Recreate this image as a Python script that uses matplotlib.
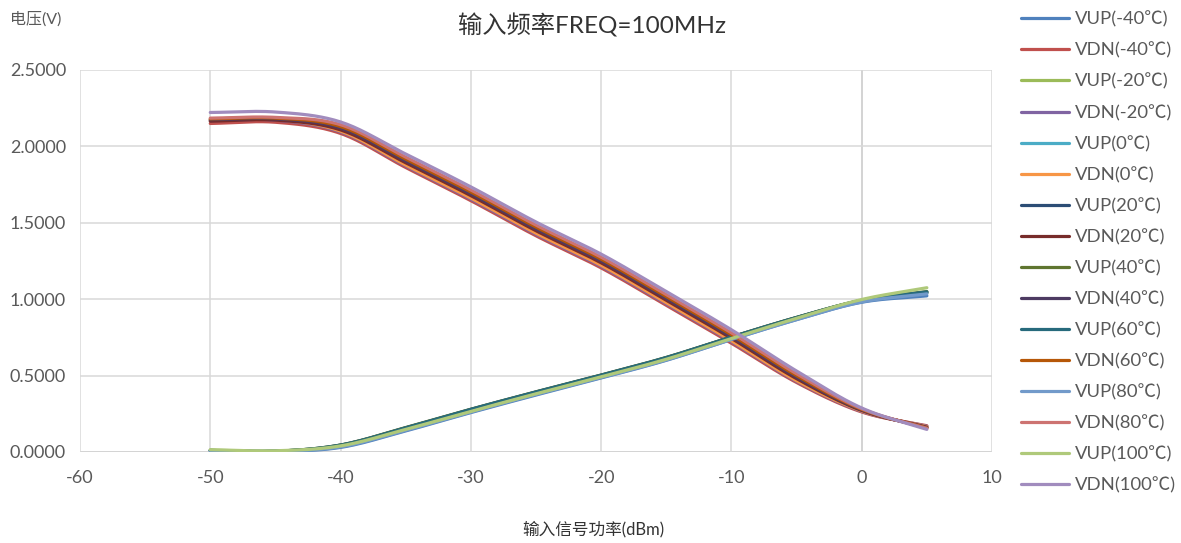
import numpy as np
import matplotlib
matplotlib.use('Agg')
import matplotlib.pyplot as plt

plt.rcParams['font.family'] = ['Lato', 'Noto Sans CJK SC', 'DejaVu Sans']
plt.rcParams['axes.unicode_minus'] = False

# input power (dBm)
pin = [-50, -45, -40, -35, -30, -25, -20, -15, -10, -5, 0, 5]

temps = ['-40', '-20', '0', '20', '40', '60', '80', '100']

# detector outputs (V)
vup_m40 = [0.008, 0.004, 0.030, 0.138, 0.258, 0.373, 0.484, 0.600, 0.736, 0.866, 0.980, 1.022]
vdn_m40 = [2.150, 2.158, 2.085, 1.862, 1.645, 1.415, 1.205, 0.960, 0.712, 0.455, 0.262, 0.172]
vup_m20 = [0.012, 0.006, 0.038, 0.148, 0.268, 0.383, 0.494, 0.609, 0.744, 0.874, 0.988, 1.040]
vdn_m20 = [2.168, 2.172, 2.095, 1.872, 1.655, 1.425, 1.215, 0.970, 0.722, 0.462, 0.266, 0.168]
vup_0 = [0.010, 0.005, 0.040, 0.152, 0.272, 0.387, 0.497, 0.612, 0.747, 0.877, 0.990, 1.042]
vdn_0 = [2.172, 2.176, 2.100, 1.878, 1.662, 1.432, 1.222, 0.977, 0.728, 0.467, 0.269, 0.165]
vup_20 = [0.010, 0.005, 0.045, 0.158, 0.278, 0.392, 0.502, 0.617, 0.752, 0.880, 0.992, 1.045]
vdn_20 = [2.165, 2.172, 2.108, 1.893, 1.678, 1.448, 1.238, 0.993, 0.744, 0.480, 0.272, 0.162]
vup_40 = [0.010, 0.005, 0.046, 0.160, 0.280, 0.394, 0.504, 0.619, 0.753, 0.881, 0.993, 1.050]
vdn_40 = [2.175, 2.180, 2.120, 1.905, 1.690, 1.460, 1.250, 1.005, 0.755, 0.490, 0.275, 0.160]
vup_60 = [0.010, 0.005, 0.045, 0.158, 0.279, 0.393, 0.503, 0.618, 0.752, 0.880, 0.992, 1.048]
vdn_60 = [2.180, 2.185, 2.130, 1.917, 1.702, 1.472, 1.262, 1.017, 0.767, 0.500, 0.279, 0.157]
vup_80 = [0.008, 0.004, 0.034, 0.142, 0.262, 0.377, 0.487, 0.602, 0.737, 0.867, 0.982, 1.035]
vdn_80 = [2.185, 2.190, 2.142, 1.930, 1.715, 1.485, 1.275, 1.030, 0.780, 0.512, 0.283, 0.155]
vup_100 = [0.015, 0.008, 0.040, 0.148, 0.266, 0.381, 0.492, 0.607, 0.743, 0.875, 0.998, 1.075]
vdn_100 = [2.222, 2.225, 2.160, 1.950, 1.735, 1.505, 1.295, 1.050, 0.800, 0.530, 0.288, 0.148]

series = [vup_m40, vdn_m40, vup_m20, vdn_m20, vup_0, vdn_0, vup_20, vdn_20,
          vup_40, vdn_40, vup_60, vdn_60, vup_80, vdn_80, vup_100, vdn_100]
colors = ['#4F81BD', '#C0504D', '#9BBB59', '#8064A2', '#4BACC6', '#F79646',
          '#2C4D75', '#772C2A', '#5F7530', '#4D3B62', '#276A7C', '#B65708',
          '#729ACA', '#CD7371', '#AFC97A', '#A18CBE']


def smooth(x, y, n=20):
    # catmull-rom pass through the points, like a spreadsheet "smoothed line"
    x = np.asarray(x, float)
    y = np.asarray(y, float)
    px = np.concatenate([[2 * x[0] - x[1]], x, [2 * x[-1] - x[-2]]])
    py = np.concatenate([[2 * y[0] - y[1]], y, [2 * y[-1] - y[-2]]])
    ox, oy = [], []
    t = np.linspace(0, 1, n, endpoint=False)
    for i in range(1, len(px) - 2):
        for p, o in ((px, ox), (py, oy)):
            p0, p1, p2, p3 = p[i - 1], p[i], p[i + 1], p[i + 2]
            o.extend(0.5 * (2 * p1 + (-p0 + p2) * t + (2 * p0 - 5 * p1 + 4 * p2 - p3) * t ** 2
                            + (-p0 + 3 * p1 - 3 * p2 + p3) * t ** 3))
    ox.append(x[-1])
    oy.append(y[-1])
    return ox, oy


fig = plt.figure(figsize=(11.81, 5.43), dpi=100)
ax = fig.add_axes([80 / 1181, 1 - 452 / 543, 912 / 1181, 382 / 543])

for i, vals in enumerate(series):
    kind = 'VUP' if i % 2 == 0 else 'VDN'
    sx, sy = smooth(pin, vals)
    ax.plot(sx, sy, color=colors[i], lw=2.3, solid_capstyle='round',
            label='%s(%s℃)' % (kind, temps[i // 2]), zorder=3)

ax.set_xlim(-60, 10)
ax.set_ylim(0, 2.5)
ax.set_xticks(range(-60, 11, 10))
ax.set_yticks(np.arange(0, 2.51, 0.5))
ax.set_yticklabels(['%.4f' % v for v in np.arange(0, 2.51, 0.5)])
ax.grid(True, color='#D9D9D9', lw=1.1, zorder=0)
ax.axvline(0, color='#BFBFBF', lw=1.3, zorder=1)
ax.axhline(0, color='#BFBFBF', lw=1.3, zorder=1)
for s in ax.spines.values():
    s.set_visible(False)
ax.tick_params(length=0, labelsize=13, labelcolor='#595959')
ax.tick_params(axis='y', pad=10)
ax.tick_params(axis='x', pad=13)

fig.text(592 / 1181, 1 - 25 / 543, '输入频率FREQ=100MHz', ha='center', va='center',
         fontsize=17.5, color='#333333')
fig.text(10 / 1181, 1 - 19 / 543, '电压(V)', ha='left', va='center',
         fontsize=11.5, color='#595959')
fig.text(593 / 1181, 1 - 529 / 543, '输入信号功率(dBm)', ha='center', va='center',
         fontsize=12, color='#333333')

leg = fig.legend(loc='upper left', bbox_to_anchor=(1014 / 1181, 1 - 4 / 543),
                 frameon=False, fontsize=13.3, handlelength=2.6, handletextpad=0.3,
                 labelspacing=0.79, borderaxespad=0)
for t in leg.get_texts():
    t.set_color('#595959')

fig.savefig('out.png', dpi=100)
